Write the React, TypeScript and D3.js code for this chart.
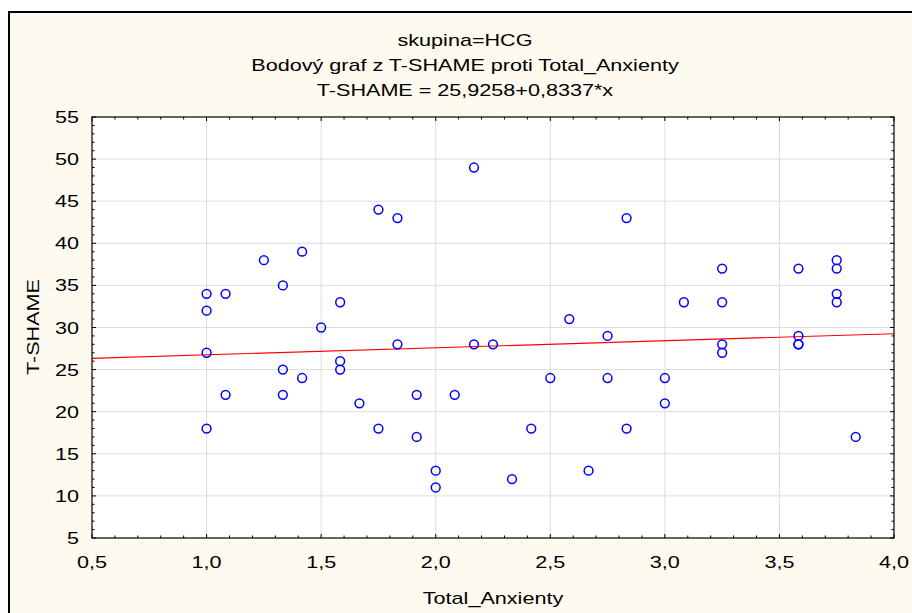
import React from "react";
import * as d3 from "d3";

const xValues = [1.0, 1.0, 1.0, 1.0, 1.083, 1.083, 1.25, 1.333, 1.333, 1.333, 1.417, 1.417, 1.5, 1.583, 1.583, 1.583, 1.667, 1.75, 1.75, 1.833, 1.833, 1.917, 1.917, 2.0, 2.0, 2.083, 2.167, 2.167, 2.25, 2.333, 2.417, 2.5, 2.583, 2.667, 2.75, 2.75, 2.833, 2.833, 3.0, 3.0, 3.083, 3.25, 3.25, 3.25, 3.25, 3.583, 3.583, 3.583, 3.583, 3.75, 3.75, 3.75, 3.75, 3.833];
const yValues = [34, 32, 27, 18, 34, 22, 38, 35, 25, 22, 39, 24, 30, 33, 26, 25, 21, 44, 18, 43, 28, 22, 17, 13, 11, 22, 49, 28, 28, 12, 18, 24, 31, 13, 29, 24, 43, 18, 24, 21, 33, 37, 33, 28, 27, 37, 29, 28, 28, 38, 37, 34, 33, 17];
const xTicks = [0.5, 1.0, 1.5, 2.0, 2.5, 3.0, 3.5, 4.0];
const yTicks = [5, 10, 15, 20, 25, 30, 35, 40, 45, 50, 55];
const intercept = 25.9258;
const slope = 0.8337;
const titleLines = ["skupina=HCG", "Bodový graf z T-SHAME proti Total_Anxienty", "T-SHAME = 25,9258+0,8337*x"];
const xLabel = "Total_Anxienty";
const yLabel = "T-SHAME";

const W = 912, H = 613;
const L = 92, R = 894, T = 117, B = 538;
const font = "'Liberation Sans', Arial, sans-serif";
const SX = 1.27;
const FS = 17;

function Txt({ x, y, anchor = "middle", rotate = 0, children }: { x: number; y: number; anchor?: string; rotate?: number; children: React.ReactNode }) {
  return (
    <text
      transform={`translate(${x},${y}) rotate(${rotate}) scale(${SX},1)`}
      textAnchor={anchor}
      fontFamily={font}
      fontSize={FS}
      fill="#000"
    >
      {children}
    </text>
  );
}

export default function App() {
  const x = d3.scaleLinear().domain([0.5, 4.0]).range([L, R]);
  const y = d3.scaleLinear().domain([5, 55]).range([B, T]);
  const fmt = (v: number) => v.toFixed(1).replace(".", ",");
  const xMinor = d3.range(0.5, 4.0001, 0.1).map((v) => +v.toFixed(2)).filter((v) => !xTicks.some((t) => Math.abs(t - v) < 1e-6));
  const yMinor = d3.range(5, 55.001, 1).filter((v) => v % 5 !== 0);
  const line = d3.line<number>().x((d) => x(d)).y((d) => y(intercept + slope * d));
  return (
    <svg width={W} height={H} style={{ position: "absolute", left: 0, top: 0 }}>
      <rect x={0} y={0} width={W} height={H} fill="#ffffff" />
      <rect x={9} y={12} width={W + 20} height={H + 20} fill="#fffaef" stroke="#000" strokeWidth={2} />
      {titleLines.map((t, i) => (
        <Txt key={i} x={465} y={[46, 71, 96][i]}>{t}</Txt>
      ))}
      <rect x={L} y={T} width={R - L} height={B - T} fill="#ffffff" />
      {xTicks.slice(1, -1).map((t) => (
        <line key={"gx" + t} x1={x(t)} x2={x(t)} y1={T} y2={B} stroke="#dcdcdc" strokeWidth={1} />
      ))}
      {yTicks.slice(1, -1).map((t) => (
        <line key={"gy" + t} x1={L} x2={R} y1={y(t)} y2={y(t)} stroke="#dcdcdc" strokeWidth={1} />
      ))}
      <path d={line([0.5, 4.0]) || ""} stroke="#ff0000" strokeWidth={1.2} fill="none" />
      {xValues.map((xv, i) => (
        <circle key={i} cx={x(xv)} cy={y(yValues[i])} r={4.4} fill="none" stroke="#0000ff" strokeWidth={1.5} />
      ))}
      <rect x={L} y={T} width={R - L} height={B - T} fill="none" stroke="#000" strokeWidth={1.2} />
      {xTicks.map((t) => (
        <g key={"tx" + t}>
          <line x1={x(t)} x2={x(t)} y1={B} y2={B - 4} stroke="#000" />
          <line x1={x(t)} x2={x(t)} y1={T} y2={T + 4} stroke="#000" />
        </g>
      ))}
      {xMinor.map((t) => (
        <g key={"mx" + t}>
          <line x1={x(t)} x2={x(t)} y1={B} y2={B - 2.5} stroke="#000" />
          <line x1={x(t)} x2={x(t)} y1={T} y2={T + 2.5} stroke="#000" />
        </g>
      ))}
      {yTicks.map((t) => (
        <g key={"ty" + t}>
          <line x1={L} x2={L + 4} y1={y(t)} y2={y(t)} stroke="#000" />
          <line x1={R} x2={R - 4} y1={y(t)} y2={y(t)} stroke="#000" />
        </g>
      ))}
      {yMinor.map((t) => (
        <g key={"my" + t}>
          <line x1={L} x2={L + 2.5} y1={y(t)} y2={y(t)} stroke="#000" />
          <line x1={R} x2={R - 2.5} y1={y(t)} y2={y(t)} stroke="#000" />
        </g>
      ))}
      {xTicks.map((t) => (
        <Txt key={"lx" + t} x={x(t)} y={568}>{fmt(t)}</Txt>
      ))}
      {yTicks.map((t) => (
        <Txt key={"ly" + t} x={L - 13} y={y(t) + 6} anchor="end">{t}</Txt>
      ))}
      <Txt x={493} y={604}>{xLabel}</Txt>
      <Txt x={39} y={327} rotate={-90}>{yLabel}</Txt>
    </svg>
  );
}
